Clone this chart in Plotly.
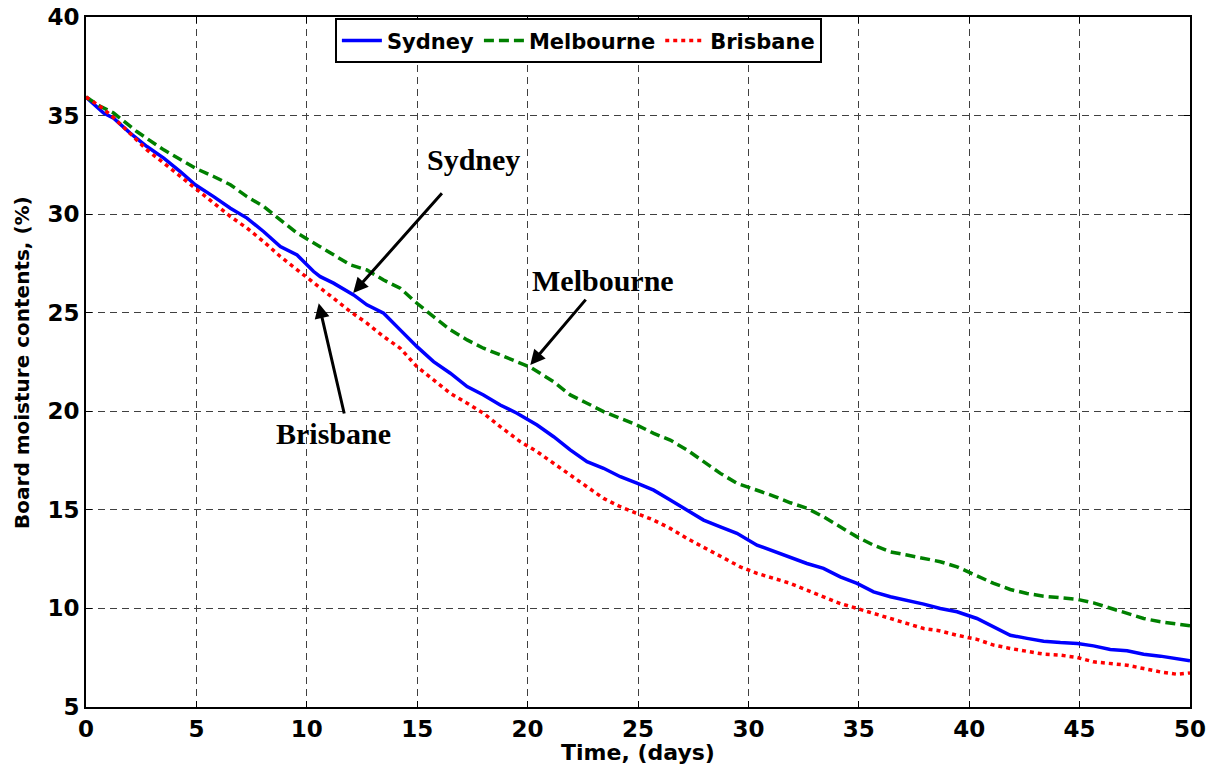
import plotly.graph_objects as go

# Board moisture content over drying time for three cities
sydney_days = [0, 0.8, 1.25, 2.0, 2.76, 3.52, 4.27, 4.95, 5.78, 6.54, 7.29, 8.04, 8.8, 9.56,
               10.31, 10.61, 11.21, 12.12, 12.72, 13.48, 14.23, 14.99, 15.74, 16.5, 17.26,
               18.0, 18.76, 19.52, 20.43, 21.18, 21.93, 22.69, 23.44, 24.2, 24.95, 25.71,
               26.46, 27.22, 27.97, 28.73, 29.48, 30.39, 31.14, 31.9, 32.65, 33.4, 34.16,
               34.92, 35.67, 36.43, 37.18, 37.94, 38.69, 39.45, 40.35, 41.11, 41.86, 42.62,
               43.37, 44.13, 44.9, 45.63, 46.39, 47.15, 47.9, 48.66, 49.41, 50]
sydney_mc = [35.94, 35.13, 34.87, 34.11, 33.43, 32.84, 32.16, 31.49, 30.89, 30.30, 29.80,
             29.12, 28.36, 27.93, 27.09, 26.83, 26.5, 25.9, 25.4, 24.97, 24.13, 23.28,
             22.52, 21.93, 21.25, 20.83, 20.32, 19.9, 19.3, 18.71, 18.04, 17.44, 17.11,
             16.68, 16.35, 16.0, 15.5, 14.99, 14.48, 14.14, 13.81, 13.21, 12.91, 12.62,
             12.28, 12.03, 11.6, 11.27, 10.84, 10.59, 10.42, 10.22, 10.0, 9.83, 9.49,
             9.07, 8.64, 8.48, 8.34, 8.27, 8.22, 8.1, 7.92, 7.85, 7.68, 7.58, 7.46, 7.34]

melbourne_days = [0, 0.6, 1.25, 2.3, 3.52, 4.27, 4.95, 5.78, 6.54, 7.29, 8.04, 8.8, 9.56,
                  10.6, 11.97, 12.72, 13.48, 14.23, 14.99, 15.74, 16.5, 17.26, 18.0, 18.76,
                  19.52, 20.12, 21.18, 21.93, 22.69, 23.44, 24.2, 24.95, 25.71, 26.46, 27.22,
                  27.97, 28.73, 29.48, 30.39, 31.14, 31.9, 32.65, 33.4, 34.16, 34.92, 35.67,
                  36.43, 37.18, 37.94, 38.69, 39.45, 40.35, 41.11, 41.86, 42.62, 43.37,
                  44.13, 44.9, 45.63, 46.39, 47.15, 47.9, 48.66, 49.41, 50]
melbourne_mc = [35.94, 35.5, 35.13, 34.19, 33.26, 32.76, 32.33, 31.91, 31.49, 30.89, 30.39,
                29.71, 29.04, 28.35, 27.43, 27.17, 26.66, 26.24, 25.48, 24.8, 24.13, 23.62,
                23.2, 22.86, 22.52, 22.24, 21.5, 20.83, 20.41, 19.98, 19.64, 19.3, 18.88,
                18.54, 18.04, 17.44, 16.85, 16.35, 16.0, 15.7, 15.36, 15.08, 14.65, 14.14,
                13.63, 13.21, 12.87, 12.71, 12.54, 12.37, 12.11, 11.64, 11.27, 10.96, 10.76,
                10.62, 10.56, 10.46, 10.28, 10.0, 9.75, 9.49, 9.32, 9.2, 9.12]

brisbane_days = [0, 0.6, 1.25, 2.0, 2.76, 3.52, 4.27, 4.95, 5.78, 6.54, 7.29, 8.04, 8.8,
                 9.56, 10.31, 11.21, 11.97, 12.72, 13.48, 14.23, 14.99, 15.74, 16.5, 17.26,
                 18.0, 18.76, 19.67, 20.43, 21.18, 21.93, 22.69, 23.44, 24.2, 24.95, 25.71,
                 26.46, 27.22, 27.97, 28.73, 29.63, 30.39, 31.14, 31.9, 32.65, 33.4, 34.16,
                 34.92, 35.67, 36.43, 37.18, 37.94, 38.69, 39.45, 40.35, 41.11, 41.86,
                 42.62, 43.37, 44.13, 44.9, 45.63, 46.39, 47.15, 47.9, 48.66, 49.41, 50]
brisbane_mc = [35.94, 35.5, 34.9, 34.1, 33.26, 32.59, 31.91, 31.32, 30.56, 29.88, 29.29,
               28.61, 27.85, 27.17, 26.5, 25.74, 25.06, 24.47, 23.79, 23.2, 22.26, 21.59,
               20.91, 20.41, 19.9, 19.22, 18.46, 17.95, 17.36, 16.77, 16.17, 15.58, 15.16,
               14.82, 14.48, 14.06, 13.55, 13.1, 12.65, 12.11, 11.78, 11.52, 11.27, 10.93,
               10.59, 10.25, 10.0, 9.75, 9.49, 9.24, 8.98, 8.86, 8.64, 8.43, 8.14, 7.97,
               7.83, 7.68, 7.63, 7.51, 7.29, 7.21, 7.12, 6.95, 6.78, 6.66, 6.73]

x_ticks = [0, 5, 10, 15, 20, 25, 30, 35, 40, 45, 50]
y_ticks = [5, 10, 15, 20, 25, 30, 35, 40]

# Callout labels: (text, text x, text y, arrow tail x, arrow tail y, arrow tip x, arrow tip y)
callouts = [
    ("Sydney", 17.55, 32.75, 16.18, 31.13, 12.1, 26.0),
    ("Melbourne", 23.4, 26.65, 22.69, 25.74, 20.12, 22.35),
    ("Brisbane", 11.2, 18.85, 11.71, 19.81, 10.54, 25.48),
]

SANS = "DejaVu Sans, Verdana, sans-serif"
SERIF = "Liberation Serif, Times New Roman, serif"

fig = go.Figure()
fig.add_trace(go.Scatter(x=sydney_days, y=sydney_mc, name="Sydney", mode="lines",
                         line=dict(color="#0000FF", width=3.5)))
fig.add_trace(go.Scatter(x=melbourne_days, y=melbourne_mc, name="Melbourne", mode="lines",
                         line=dict(color="#008000", width=3.5, dash="10px,5px")))
fig.add_trace(go.Scatter(x=brisbane_days, y=brisbane_mc, name="Brisbane", mode="lines",
                         line=dict(color="#FF0000", width=3.5, dash="4px,4px")))

for text, tx, ty, ax, ay, hx, hy in callouts:
    fig.add_annotation(x=tx, y=ty, xref="x", yref="y", text=f"<b>{text}</b>",
                       showarrow=False,
                       font=dict(family=SERIF, size=30, color="black"))
    fig.add_annotation(x=hx, y=hy, ax=ax, ay=ay, xref="x", yref="y",
                       axref="x", ayref="y", text="", showarrow=True,
                       arrowhead=2, arrowsize=1, arrowwidth=3, arrowcolor="black",
                       standoff=0, startstandoff=0)

# Axis titles placed as paper annotations for exact positioning
fig.add_annotation(x=0.5, y=-0.045, xref="paper", yref="paper", xanchor="center",
                   yanchor="top", text="Time, (days)", showarrow=False,
                   font=dict(family=SANS, size=22, color="black", weight="bold"))
fig.add_annotation(x=-0.058, y=0.5, xref="paper", yref="paper", xanchor="center",
                   yanchor="middle", textangle=-90, text="Board moisture contents, (%)",
                   showarrow=False,
                   font=dict(family=SANS, size=20, color="black", weight="bold"))

axis_font = dict(family=SANS, size=23, color="black", weight="bold")
grid_common = dict(showgrid=True, gridcolor="#404040", gridwidth=1, griddash="7px,5px",
                   showline=True, linecolor="black", linewidth=2, mirror="ticks",
                   ticks="inside", ticklen=6, tickwidth=1, tickcolor="black",
                   zeroline=False, tickfont=axis_font, automargin=False)

fig.update_xaxes(range=[0, 50], tickvals=x_ticks, ticktext=[str(v) for v in x_ticks],
                 **grid_common)
fig.update_yaxes(range=[5, 40], tickvals=y_ticks, ticktext=[str(v) for v in y_ticks],
                 **grid_common)

fig.update_layout(
    width=1212, height=764,
    margin=dict(l=86, r=22, t=17, b=57),
    paper_bgcolor="white", plot_bgcolor="white",
    showlegend=True,
    legend=dict(orientation="h", x=0.446, xanchor="center", y=0.998, yanchor="top",
                bgcolor="white", bordercolor="black", borderwidth=2,
                font=dict(family=SANS, size=21, color="black", weight="bold"),
                itemwidth=40, tracegroupgap=0),
)

fig.write_html("out.html")
